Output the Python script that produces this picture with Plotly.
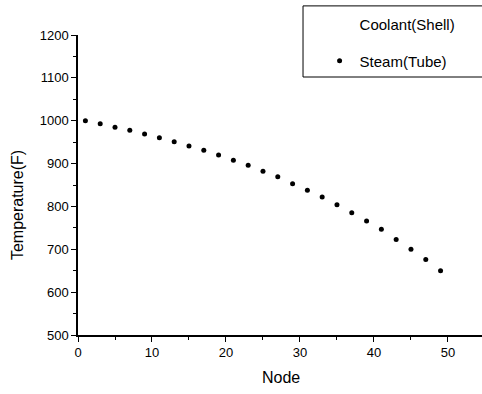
import plotly.graph_objects as go

# Data
node = [1, 3, 5, 7, 9, 11, 13, 15, 17, 19, 21, 23, 25, 27, 29, 31, 33, 35, 37, 39, 41, 43, 45, 47, 49]
steam_tube = [1000, 993, 985, 978, 969, 960, 951, 941, 931, 920, 908, 896, 882, 869, 853,
              838, 822, 804, 785, 766, 747, 723, 700, 676, 650]
# Coolant(Shell) appears only in the legend; no points are visible in the chart
coolant_node = [None]
coolant_shell = [None]

x_ticks = [0, 10, 20, 30, 40, 50]
y_ticks = [500, 600, 700, 800, 900, 1000, 1100, 1200]

FONT = "Liberation Sans, Arial, Helvetica, sans-serif"

fig = go.Figure()
fig.add_trace(go.Scatter(
    x=coolant_node, y=coolant_shell, mode="markers", name="Coolant(Shell)",
    marker=dict(size=5, color="rgba(0,0,0,0)"), legendgroup="a",
))
fig.add_trace(go.Scatter(
    x=node, y=steam_tube, mode="markers", name="Steam(Tube)",
    marker=dict(size=5, color="black"), legendgroup="b",
))

axis_common = dict(
    showline=True, linecolor="black", linewidth=1.5,
    ticks="outside", ticklen=5, tickwidth=1.2, tickcolor="black",
    showgrid=False, zeroline=False,
    tickfont=dict(family=FONT, size=13, color="black"),
)

fig.update_xaxes(
    range=[0, 54.6], tickvals=x_ticks,
    minor=dict(ticks="outside", ticklen=3, tickcolor="black", dtick=5, tick0=0),
    **axis_common,
)
fig.update_yaxes(
    range=[500, 1200], tickvals=y_ticks,
    minor=dict(ticks="outside", ticklen=3, tickcolor="black", dtick=50, tick0=500),
    **axis_common,
)

fig.add_annotation(
    text="Node", xref="paper", yref="paper", x=0.502, y=-0.143,
    showarrow=False, font=dict(family=FONT, size=16, color="black"),
    xanchor="center", yanchor="middle",
)
fig.add_annotation(
    text="Temperature(F)", xref="paper", yref="paper", x=-0.151, y=0.433,
    showarrow=False, textangle=-90, font=dict(family=FONT, size=16, color="black"),
    xanchor="center", yanchor="middle",
)

# legend frame
fig.add_shape(
    type="rect", xref="paper", yref="paper",
    x0=0.557, x1=1.03, y0=0.86, y1=1.097,
    line=dict(color="black", width=1), fillcolor="rgba(0,0,0,0)",
)

fig.update_layout(
    width=482, height=394,
    margin=dict(l=78, r=0, t=35, b=59),
    paper_bgcolor="white", plot_bgcolor="white",
    showlegend=True,
    legend=dict(
        x=0.598, y=1.09, xanchor="left", yanchor="top",
        font=dict(family=FONT, size=15, color="black"),
        bgcolor="rgba(0,0,0,0)", borderwidth=0,
        traceorder="grouped", tracegroupgap=14,
    ),
)

fig.write_html(
    "out.html",
    config={"displayModeBar": False},
    post_script="document.body.style.margin='0px';document.body.style.overflow='hidden';",
)
